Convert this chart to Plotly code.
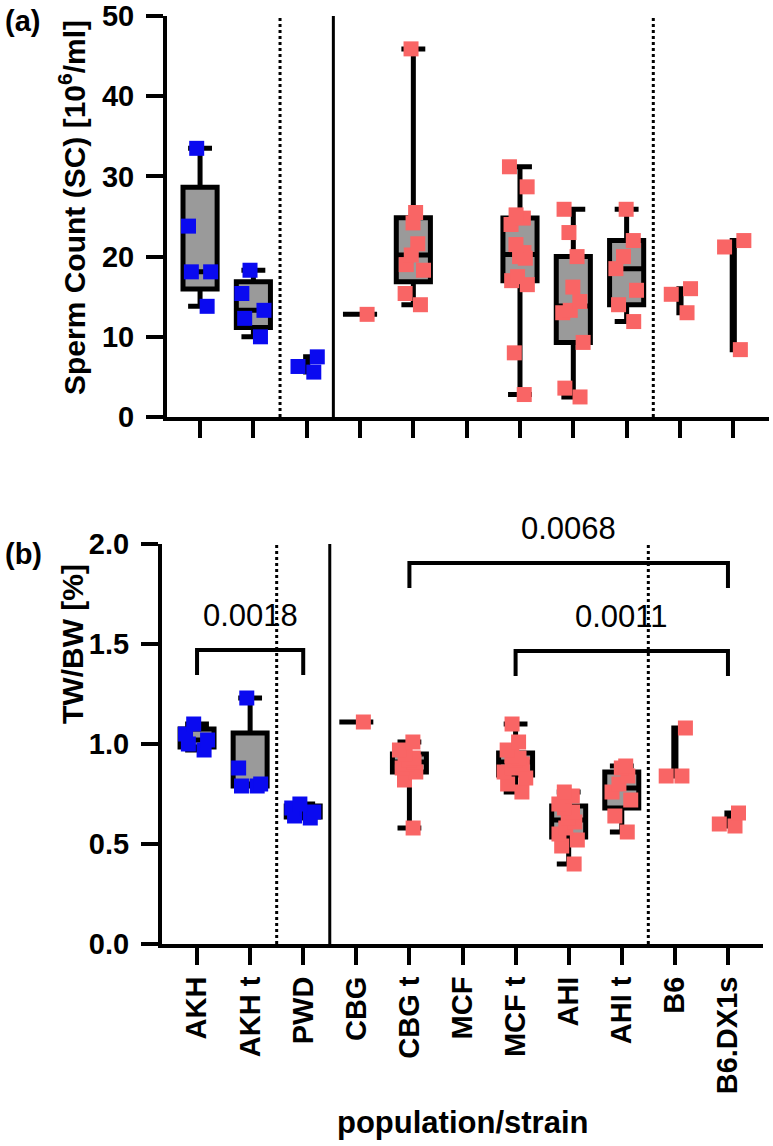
import statistics as st
import plotly.graph_objects as go

categories = ["AKH", "AKH t", "PWD", "CBG", "CBG t", "MCF", "MCF t", "AHI", "AHI t", "B6", "B6.DX1s"]

# sperm count [10^6/ml], one list per category
sperm_count = [
    [33.5, 23.8, 18.1, 18.1, 13.8],
    [18.3, 15.4, 13.3, 12.3, 10.0],
    [7.5, 6.3, 5.6],
    [12.8],
    [45.9, 25.5, 24.2, 21.6, 20.2, 19.0, 18.3, 15.4, 14.0],
    [],
    [31.2, 28.7, 25.2, 24.8, 24.0, 21.5, 20.5, 20.0, 19.8, 17.5, 17.0, 16.5, 8.0, 2.8],
    [25.9, 23.0, 20.0, 16.2, 14.4, 13.3, 13.0, 9.3, 3.6, 2.5],
    [25.9, 22.0, 20.0, 18.5, 15.8, 14.0, 11.9],
    [16.0, 15.3, 13.0],
    [22.0, 21.2, 8.4],
]

# testis weight / body weight [%]
tw_bw = [
    [1.10, 1.05, 1.02, 1.00, 0.97],
    [1.23, 0.88, 0.80, 0.79, 0.79],
    [0.70, 0.68, 0.66, 0.64, 0.63],
    [1.11],
    [1.01, 0.97, 0.95, 0.93, 0.92, 0.91, 0.90, 0.88, 0.86, 0.82, 0.58],
    [],
    [1.10, 1.01, 0.97, 0.94, 0.93, 0.92, 0.90, 0.88, 0.86, 0.83, 0.80, 0.76],
    [0.76, 0.74, 0.70, 0.68, 0.66, 0.63, 0.61, 0.58, 0.55, 0.52, 0.49, 0.40],
    [0.89, 0.88, 0.84, 0.80, 0.76, 0.72, 0.64, 0.56],
    [1.08, 0.84, 0.84],
    [0.655, 0.60, 0.59],
]

# p-value brackets on panel (b): from, to, label
comparisons = [
    ("AKH", "PWD", "0.0018"),
    ("CBG t", "B6.DX1s", "0.0068"),
    ("MCF t", "B6.DX1s", "0.0011"),
]

wild = ["AKH", "AKH t", "PWD"]
BLUE = "#0a0af0"
RED = "#f96565"
FONT = "Liberation Sans, Arial"

W, H = 773, 1146


def px(x):
    return x / W


def py(y):
    return 1 - y / H


def quartiles(v):
    # GraphPad-style (exclusive median) quartiles
    s = sorted(v)
    n = len(s)
    med = st.median(s)
    if n < 2:
        return s[0], med, s[0]
    half = n // 2
    return st.median(s[:half]), med, st.median(s[n - half:])


fig = go.Figure()


def add_panel(values, xa, ya):
    for cat, vals in zip(categories, values):
        if not vals:
            continue
        q1, med, q3 = quartiles(vals)
        w = 0.64 if len(vals) != 3 else 0.04
        fig.add_trace(go.Box(
            x=[cat], q1=[q1], median=[med], q3=[q3],
            lowerfence=[min(vals)], upperfence=[max(vals)],
            boxpoints=False, width=w, whiskerwidth=0.7,
            fillcolor="#9a9a9a", line=dict(color="black", width=5),
            xaxis=xa, yaxis=ya, showlegend=False, hoverinfo="skip"))
        fig.add_trace(go.Box(
            x=[cat] * len(vals), y=vals, boxpoints="all", jitter=0.8, pointpos=0,
            width=0.64, fillcolor="rgba(0,0,0,0)",
            line=dict(color="rgba(0,0,0,0)", width=0),
            marker=dict(symbol="square", size=15, color=BLUE if cat in wild else RED),
            xaxis=xa, yaxis=ya, showlegend=False))


add_panel(sperm_count, "x", "y")
add_panel(tw_bw, "x2", "y2")

# significance brackets
levels = {"0.0018": 1.47, "0.0068": 1.905, "0.0011": 1.465}
annotations = []
for a, b, label in comparisons:
    top = levels[label]
    fig.add_trace(go.Scatter(
        x=[a, a, b, b], y=[top - 0.125, top, top, top - 0.125], mode="lines",
        line=dict(color="black", width=4), xaxis="x2", yaxis="y2",
        showlegend=False, hoverinfo="skip"))
    mid = categories[(categories.index(a) + categories.index(b)) // 2]
    annotations.append(dict(
        x=mid, y=top + 0.075, xref="x2", yref="y2", text=label, showarrow=False,
        xanchor="center", yanchor="bottom",
        font=dict(family=FONT, size=31, color="black")))

shapes = []
for xr in ["x", "x2"]:
    yr = "y domain" if xr == "x" else "y2 domain"
    for pos, dash in [(1.5, "dot"), (2.5, "solid"), (8.5, "dot")]:
        shapes.append(dict(type="line", xref=xr, yref=yr, x0=pos, x1=pos, y0=0, y1=1,
                           line=dict(color="black", width=3, dash=dash)))

bold = dict(family=FONT, size=29, color="black", weight="bold")
title_font = dict(family=FONT, size=30, color="black", weight="bold")
annotations += [
    dict(x=px(3), y=py(3), xref="paper", yref="paper", text="(a)",
         xanchor="left", yanchor="top", showarrow=False, font=bold),
    dict(x=px(3), y=py(536), xref="paper", yref="paper", text="(b)",
         xanchor="left", yanchor="top", showarrow=False, font=bold),
    dict(x=px(72), y=py(208), xref="paper", yref="paper",
         text="Sperm Count (SC) [10<sup>6</sup>/ml]", textangle=-90,
         xanchor="center", yanchor="middle", showarrow=False, font=title_font),
    dict(x=px(72), y=py(644), xref="paper", yref="paper",
         text="TW/BW [%]", textangle=-90,
         xanchor="center", yanchor="middle", showarrow=False, font=title_font),
    dict(x=px(462), y=py(1122), xref="paper", yref="paper",
         text="population/strain", xanchor="center", yanchor="middle", showarrow=False,
         font=dict(family=FONT, size=31, color="black", weight="bold")),
]

axis_style = dict(showline=True, linewidth=4, linecolor="black", ticks="outside",
                  ticklen=17, tickwidth=4, tickcolor="black", showgrid=False,
                  zeroline=False, tickfont=bold, automargin=False)

fig.update_layout(
    width=W, height=H,
    margin=dict(l=0, r=0, t=0, b=0),
    paper_bgcolor="white", plot_bgcolor="white",
    boxmode="overlay",
    xaxis=dict(axis_style, type="category", categoryorder="array", categoryarray=categories,
               domain=[px(167), px(769)], range=[-0.62, 10.67], anchor="y",
               showticklabels=False),
    yaxis=dict(axis_style, domain=[py(417), py(16)], range=[0, 50],
               tickvals=[0, 10, 20, 30, 40, 50], anchor="x", ticklabelstandoff=6,
               ticklabeloverflow="allow"),
    xaxis2=dict(axis_style, type="category", categoryorder="array", categoryarray=categories,
                domain=[px(162), px(763)], range=[-0.66, 10.66], anchor="y2",
                tickangle=-90, ticklabelstandoff=0),
    yaxis2=dict(axis_style, domain=[py(944), py(544)], range=[0, 2],
                tickvals=[0, 0.5, 1.0, 1.5, 2.0], tickformat=".1f", anchor="x2",
                ticklabelstandoff=6, ticklabeloverflow="allow"),
    shapes=shapes,
    annotations=annotations,
)

# drop the default page margin so the figure fills the window exactly
fig.write_html("out.html", config={"displayModeBar": False},
               post_script="document.body.style.margin = '0';")
